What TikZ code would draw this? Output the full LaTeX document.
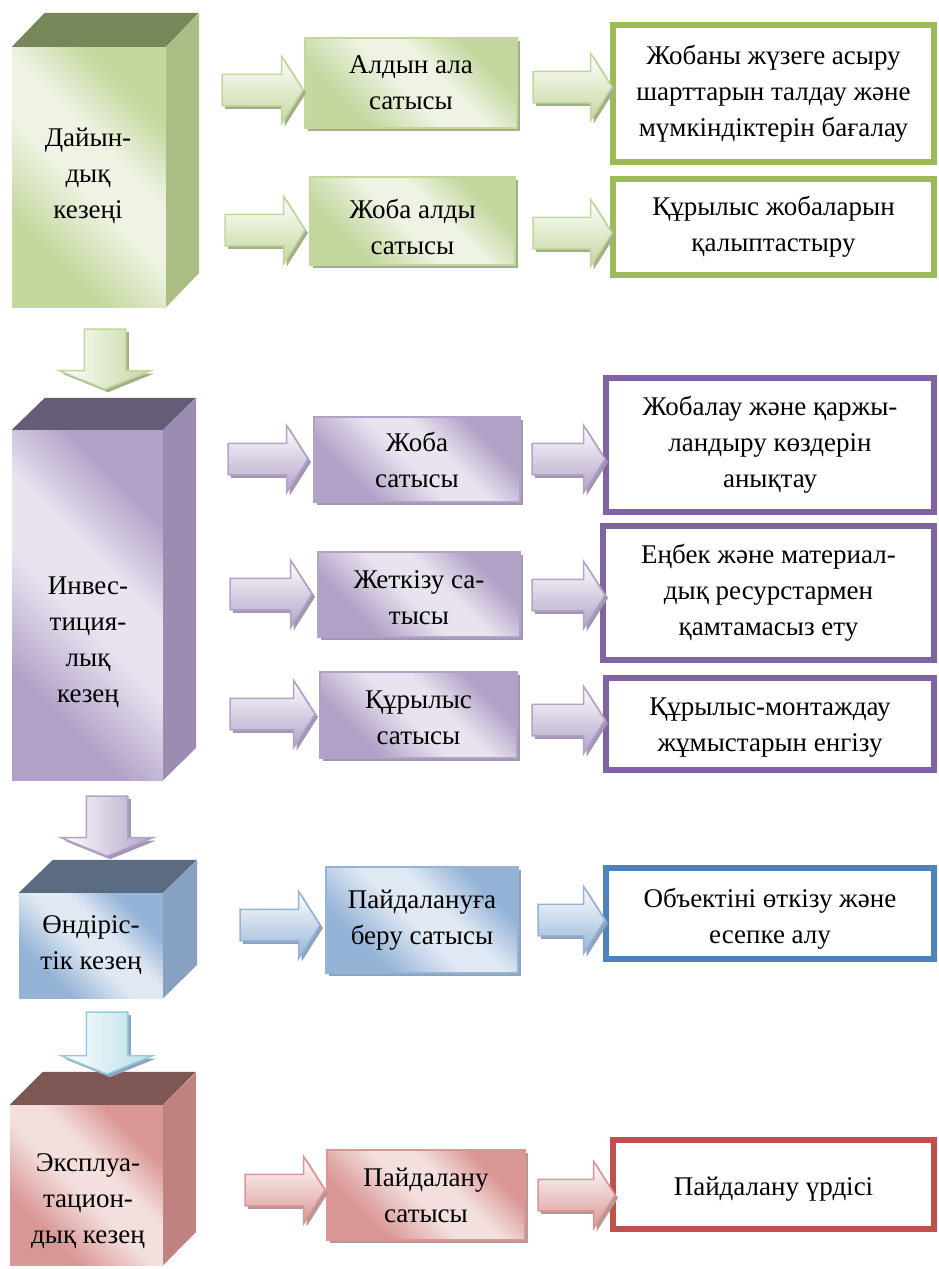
\documentclass[tikz,border=0pt]{standalone}
\usepackage{fontspec}
\setmainfont{Liberation Serif}
\usetikzlibrary{shapes.arrows,shadows}

\definecolor{gborder}{HTML}{9BBB59}
\definecolor{gline}{HTML}{C3D69B}
\definecolor{gdark}{HTML}{C4D79E}
\definecolor{glight}{HTML}{EEF3E3}
\definecolor{gtop}{HTML}{76885A}
\definecolor{gside}{HTML}{A9BD84}
\definecolor{gshadow}{HTML}{A2B08A}

\definecolor{pborder}{HTML}{8064A2}
\definecolor{pline}{HTML}{B3A2C7}
\definecolor{pdark}{HTML}{B2A1C7}
\definecolor{plight}{HTML}{E8E3EF}
\definecolor{ptop}{HTML}{675C78}
\definecolor{pside}{HTML}{9D8CB2}
\definecolor{pshadow}{HTML}{A296B3}

\definecolor{bborder}{HTML}{4F81BD}
\definecolor{bline}{HTML}{95B3D7}
\definecolor{bdark}{HTML}{95B3D7}
\definecolor{blight}{HTML}{DFE8F3}
\definecolor{btop}{HTML}{5A6B82}
\definecolor{bside}{HTML}{86A1C2}
\definecolor{bshadow}{HTML}{8FA3BF}

\definecolor{rborder}{HTML}{C0504D}
\definecolor{rline}{HTML}{D99694}
\definecolor{rdark}{HTML}{D99694}
\definecolor{rlight}{HTML}{F3DFDE}
\definecolor{rtop}{HTML}{7E5755}
\definecolor{rside}{HTML}{BF8280}
\definecolor{rshadow}{HTML}{B79897}

\definecolor{cline}{HTML}{93CDDD}
\definecolor{cdark}{HTML}{B7DEE8}

\pgfdeclarehorizontalshading{gface}{100bp}{color(0bp)=(gdark); color(30bp)=(gdark); color(47bp)=(glight); color(58bp)=(glight); color(72bp)=(gdark); color(100bp)=(gdark)}
\pgfdeclarehorizontalshading{pface}{100bp}{color(0bp)=(pdark); color(30bp)=(pdark); color(47bp)=(plight); color(58bp)=(plight); color(72bp)=(pdark); color(100bp)=(pdark)}
\pgfdeclarehorizontalshading{bface}{100bp}{color(0bp)=(bdark); color(30bp)=(bdark); color(47bp)=(blight); color(58bp)=(blight); color(72bp)=(bdark); color(100bp)=(bdark)}
\pgfdeclarehorizontalshading{rface}{100bp}{color(0bp)=(rdark); color(30bp)=(rdark); color(47bp)=(rlight); color(58bp)=(rlight); color(72bp)=(rdark); color(100bp)=(rdark)}

\begin{document}
\begin{tikzpicture}[x=1pt, y=-1pt,
        every node/.style={font=\fontsize{27}{36}\selectfont, align=center, inner sep=0pt},
        rarrow/.style={single arrow, line width=1.5pt, inner xsep=0pt, inner ysep=15pt,
            single arrow head extend=18pt, single arrow tip angle=115},
        darrow/.style={single arrow, rotate=-90, line width=1.5pt, inner xsep=0pt, inner ysep=20pt,
            single arrow head extend=25pt, single arrow tip angle=136, minimum height=60},
        endbox/.style={line width=6pt, fill=white},
        gshade/.style={drop shadow={shadow xshift=3pt, shadow yshift=-3pt, fill=gshadow, opacity=1}},
        pshade/.style={drop shadow={shadow xshift=3pt, shadow yshift=-3pt, fill=pshadow, opacity=1}},
        bshade/.style={drop shadow={shadow xshift=3pt, shadow yshift=-3pt, fill=bshadow, opacity=1}},
        rshade/.style={drop shadow={shadow xshift=3pt, shadow yshift=-3pt, fill=rshadow, opacity=1}},
        gstage/.style={shading=gface, shading angle=45, draw=gline, line width=1.5pt, gshade},
        pstage/.style={shading=pface, shading angle=45, draw=pline, line width=1.5pt, pshade},
        bstage/.style={shading=bface, shading angle=45, draw=bline, line width=1.5pt, bshade},
        rstage/.style={shading=rface, shading angle=45, draw=rline, line width=1.5pt, rshade},
        garrow/.style={rarrow, draw=gline, top color=white, bottom color=gdark, gshade},
        parrow/.style={rarrow, draw=pline, top color=white, bottom color=pdark, pshade},
        barrow/.style={rarrow, draw=bline, top color=white, bottom color=bdark, bshade},
        rrarrow/.style={rarrow, draw=rline, top color=white, bottom color=rdark, rshade}]
        \useasboundingbox (0,0) rectangle (938,1269);

        \node[shading=gface, shading angle=45, minimum width=154, minimum height=260] (dfront) at (89,177) {};
        \fill[gtop] (dfront.north west) -- ++(33,-34) -- ++(154,0) -- (dfront.north east) -- cycle;
        \fill[gside] (dfront.north east) -- ++(33,-34) -- ++(0,260) -- (dfront.south east) -- cycle;
        \node (dtext) at (88,176) {Дайын-\\дық\\кезеңі};

        \node[shading=pface, shading angle=45, minimum width=151, minimum height=350] (ifront) at (87.5,605) {};
        \fill[ptop] (ifront.north west) -- ++(33,-32) -- ++(151,0) -- (ifront.north east) -- cycle;
        \fill[pside] (ifront.north east) -- ++(33,-32) -- ++(0,350) -- (ifront.south east) -- cycle;
        \node (itext) at (88,642) {Инвес-\\тиция-\\лық\\кезең};

        \node[shading=bface, shading angle=45, minimum width=144, minimum height=105] (ofront) at (91,945.5) {};
        \fill[btop] (ofront.north west) -- ++(34,-33) -- ++(144,0) -- (ofront.north east) -- cycle;
        \fill[bside] (ofront.north east) -- ++(34,-33) -- ++(0,105) -- (ofront.south east) -- cycle;
        \node (otext) at (91,945) {Өндіріс-\\тік кезең};

        \node[shading=rface, shading angle=45, minimum width=153, minimum height=160] (efront) at (86.5,1185) {};
        \fill[rtop] (efront.north west) -- ++(33,-33) -- ++(153,0) -- (efront.north east) -- cycle;
        \fill[rside] (efront.north east) -- ++(33,-33) -- ++(0,160) -- (efront.south east) -- cycle;
        \node (etext) at (88,1201) {Эксплуа-\\тацион-\\дық кезең};

        \node[darrow, draw=gline, left color=white, right color=gdark, gshade] (gdown) at (105,355) {};
        \node[darrow, draw=pline, left color=white, right color=pdark, pshade] (pdown) at (107,822) {};
        \node[darrow, draw=cline, left color=white, right color=cdark, minimum height=62, bshade] (cdown) at (107,1039) {};

        \node[gstage, minimum width=212, minimum height=90] (alg) at (411,83) {Алдын ала\\сатысы};
        \node[gstage, minimum width=205, minimum height=88, text height=66, text depth=0] (jal) at (412.5,221) {Жоба алды\\сатысы};
        \node[pstage, minimum width=206, minimum height=85] (jsat) at (417,459.5) {Жоба\\сатысы};
        \node[pstage, minimum width=202, minimum height=85, text height=59, text depth=0] (jet) at (419,594.5) {Жеткізу са-\\тысы};
        \node[pstage, minimum width=197, minimum height=86, text height=58, text depth=0] (qur) at (418.5,715) {Құрылыс\\сатысы};
        \node[bstage, minimum width=192, minimum height=106] (pber) at (422,920) {Пайдалануға\\беру сатысы};
        \node[rstage, minimum width=198, minimum height=90] (pai) at (426,1195) {Пайдалану\\сатысы};

        \node[endbox, draw=gborder, minimum width=321, minimum height=137] (talda) at (773.5,93.5) {Жобаны жүзеге асыру\\шарттарын талдау және\\мүмкіндіктерін бағалау};
        \node[endbox, draw=gborder, minimum width=321, minimum height=96] (qalyp) at (773.5,227) {Құрылыс жобаларын\\қалыптастыру};
        \node[endbox, draw=pborder, minimum width=328, minimum height=134] (qarzh) at (770,445) {Жобалау және қаржы-\\ландыру көздерін\\анықтау};
        \node[endbox, draw=pborder, minimum width=331, minimum height=134] (resurs) at (768.5,593) {Еңбек және материал-\\дық ресурстармен\\қамтамасыз ету};
        \node[endbox, draw=pborder, minimum width=328, minimum height=92, text height=60, text depth=6] (montazh) at (770,724) {Құрылыс-монтаждау\\жұмыстарын енгізу};
        \node[endbox, draw=bborder, minimum width=328, minimum height=91, text height=65, text depth=6] (esep) at (770,913.5) {Объектіні өткізу және\\есепке алу};
        \node[endbox, draw=rborder, minimum width=321, minimum height=89, text height=27, text depth=6] (urdis) at (773.5,1184.5) {Пайдалану үрдісі};

        \foreach \n/\x/\y/\l in {1/257.5/90/81, 2/567.5/87/79, 3/260/230/80, 4/567.5/233/79}
            \node[garrow, minimum height=\l] (ga\n) at (\x,\y) {};
        \foreach \n/\x/\y/\l in {1/263/459/80, 2/563.5/459/73, 3/266/594/82, 4/563.5/595/73, 5/267.5/714/85, 6/563.5/720/73}
            \node[parrow, minimum height=\l] (pa\n) at (\x,\y) {};
        \node[barrow, minimum height=80] (ba1) at (275,925) {};
        \node[barrow, minimum height=67] (ba2) at (566.5,920) {};
        \node[rrarrow, minimum height=80] (ra1) at (280,1190) {};
        \node[rrarrow, minimum height=77] (ra2) at (571.5,1195) {};
\end{tikzpicture}
\end{document}
